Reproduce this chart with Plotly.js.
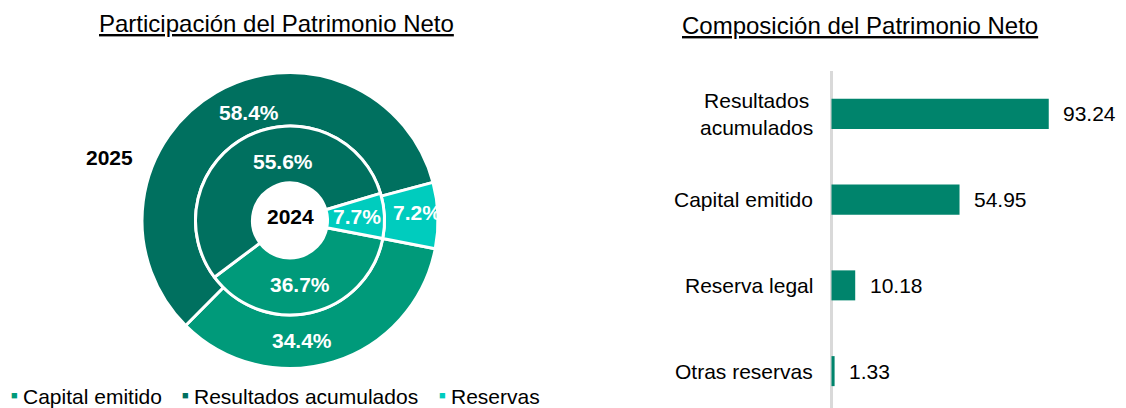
<!DOCTYPE html>
<html>
<head>
<meta charset="utf-8">
<script src="https://cdn.plot.ly/plotly-3.0.1.min.js"></script>
<style>
  html, body { margin: 0; padding: 0; background: #ffffff; }
  #chart { width: 1126px; height: 408px; }
</style>
</head>
<body>
<div id="chart"></div>
<script>
// Participación del Patrimonio Neto (%), por año
const components = ['Capital emitido', 'Resultados acumulados', 'Reservas'];
const share2025 = [34.4, 58.4, 7.2];
const share2024 = [36.7, 55.6, 7.7];
const ringYears = ['2025', '2024'];

// Composición del Patrimonio Neto
const items = ['Resultados acumulados', 'Capital emitido', 'Reserva legal', 'Otras reservas'];
const itemLabels = ['Resultados<br>acumulados', 'Capital emitido', 'Reserva legal', 'Otras reservas'];
const amounts = [93.24, 54.95, 10.18, 1.33];

// ---- styling ----
const W = 1126, H = 408;
const FONT = 'Arial, "Liberation Sans", Helvetica, sans-serif';
const sliceColors = ['#009A7A', '#00705F', '#00CCBE'];
const barColor = '#00846C';

// pixel helpers for paper coordinates
const px = x => x / W;
const py = y => 1 - y / H;

// donut geometry (pixels)
const cx = 290, cy = 220.5;
const rOuter = 148, rMid = 94.5, rHole = 37.5;
const dom = r => ({ x: [px(cx - r), px(cx + r)], y: [py(cy + r), py(cy - r)] });

const pieCommon = {
  type: 'pie',
  labels: components,
  sort: false,
  direction: 'clockwise',
  rotation: 101,
  textinfo: 'none',
  hoverinfo: 'label+percent',
  showlegend: false,
  marker: { colors: sliceColors, line: { color: '#ffffff', width: 3 } }
};

const outerRing = Object.assign({}, pieCommon, {
  name: ringYears[0], values: share2025, hole: rMid / rOuter, domain: dom(rOuter)
});
const innerRing = Object.assign({}, pieCommon, {
  name: ringYears[1], values: share2024, hole: rHole / rMid, domain: dom(rMid)
});

const bars = {
  type: 'bar', orientation: 'h',
  x: amounts, y: items,
  width: 0.35,
  marker: { color: barColor },
  hoverinfo: 'y+x',
  showlegend: false
};

// label spots inside the rings (pixels), same order as components
const spots2025 = [[302, 340], [249, 112.5], [417, 212]];
const spots2024 = [[300, 284], [283, 161.5], [357, 216.5]];

const annotations = [];
const pct = v => v.toFixed(1) + '%';

share2025.forEach((v, i) => annotations.push({
  xref: 'paper', yref: 'paper', x: px(spots2025[i][0]), y: py(spots2025[i][1]),
  xanchor: 'center', yanchor: 'middle', showarrow: false,
  text: '<b>' + pct(v) + '</b>', font: { family: FONT, size: 21, color: '#ffffff' }
}));
share2024.forEach((v, i) => annotations.push({
  xref: 'paper', yref: 'paper', x: px(spots2024[i][0]), y: py(spots2024[i][1]),
  xanchor: 'center', yanchor: 'middle', showarrow: false,
  text: '<b>' + pct(v) + '</b>', font: { family: FONT, size: 21, color: '#ffffff' }
}));

// year tags
annotations.push({
  xref: 'paper', yref: 'paper', x: px(109), y: py(157),
  xanchor: 'center', yanchor: 'middle', showarrow: false,
  text: '<b>' + ringYears[0] + '</b>', font: { family: FONT, size: 21, color: '#000000' }
});
annotations.push({
  xref: 'paper', yref: 'paper', x: px(290), y: py(216.5),
  xanchor: 'center', yanchor: 'middle', showarrow: false,
  text: '<b>' + ringYears[1] + '</b>', font: { family: FONT, size: 21, color: '#000000' }
});

// titles
annotations.push({
  xref: 'paper', yref: 'paper', x: px(276), y: py(23),
  xanchor: 'center', yanchor: 'middle', showarrow: false,
  text: '<u>Participación del Patrimonio Neto</u>', font: { family: FONT, size: 24, color: '#000000' }
});
annotations.push({
  xref: 'paper', yref: 'paper', x: px(860), y: py(25),
  xanchor: 'center', yanchor: 'middle', showarrow: false,
  text: '<u>Composición del Patrimonio Neto</u>', font: { family: FONT, size: 24, color: '#000000' }
});

// legend row under the donut
const legendSwatchX = [14.5, 185.5, 442];
components.forEach((name, i) => {
  annotations.push({
    xref: 'paper', yref: 'paper', x: px(legendSwatchX[i]), y: py(395),
    xanchor: 'center', yanchor: 'middle', showarrow: false,
    text: '■', font: { family: FONT, size: 11, color: sliceColors[i] }
  });
  annotations.push({
    xref: 'paper', yref: 'paper', x: px(legendSwatchX[i] + 6.5), y: py(396),
    xanchor: 'left', yanchor: 'middle', showarrow: false,
    text: name, font: { family: FONT, size: 21, color: '#000000' }
  });
});

// bar category names and values
items.forEach((name, i) => {
  annotations.push({
    xref: 'x', yref: 'y', x: 0, y: name, xshift: -17,
    xanchor: 'right', yanchor: 'middle', align: 'center', showarrow: false,
    text: itemLabels[i], font: { family: FONT, size: 21, color: '#000000' }
  });
  annotations.push({
    xref: 'x', yref: 'y', x: amounts[i], y: name, xshift: 12.5,
    xanchor: 'left', yanchor: 'middle', showarrow: false,
    text: amounts[i].toFixed(2), font: { family: FONT, size: 21, color: '#000000' }
  });
});

const pxPerUnit = 2.33;
const zeroX = 831.5, plotLeft = 829, plotTop = 71;

const layout = {
  width: W, height: H,
  margin: { l: 0, r: 0, t: 0, b: 0 },
  paper_bgcolor: '#ffffff', plot_bgcolor: '#ffffff',
  showlegend: false,
  font: { family: FONT, size: 21, color: '#000000' },
  xaxis: {
    domain: [px(plotLeft), 1],
    range: [-(zeroX - plotLeft) / pxPerUnit, (W - zeroX) / pxPerUnit],
    showgrid: false, showticklabels: false, ticks: '',
    zeroline: true, zerolinecolor: '#d9d9d9', zerolinewidth: 3,
    fixedrange: true
  },
  yaxis: {
    domain: [0, py(plotTop)],
    type: 'category', categoryorder: 'array', categoryarray: items,
    range: [3.43, -0.5],
    showgrid: false, showticklabels: false, ticks: '', zeroline: false,
    fixedrange: true
  },
  annotations: annotations
};

Plotly.newPlot('chart', [outerRing, innerRing, bars], layout, { displayModeBar: false, staticPlot: true });
</script>
</body>
</html>
